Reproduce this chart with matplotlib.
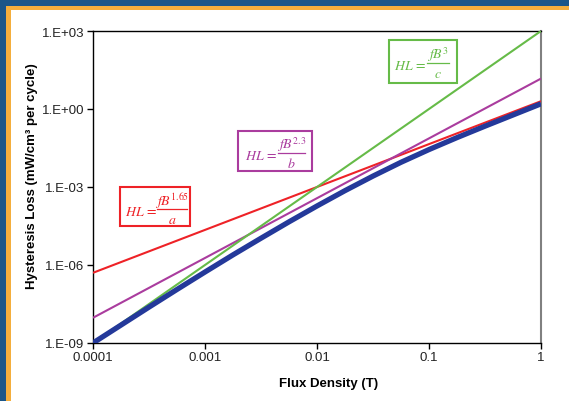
import numpy as np
import matplotlib
matplotlib.use("Agg")
from matplotlib import pyplot as plt
from matplotlib.patches import Rectangle

plt.rcParams["font.family"] = ["Liberation Sans", "DejaVu Sans"]
plt.rcParams["mathtext.fontset"] = "stix"

# flux density (T)
flux = [1e-4, 1e-3, 1e-2, 1e-1, 1.0]
flux_ticks = ["0.0001", "0.001", "0.01", "0.1", "1"]
loss_ticks = [1e-9, 1e-6, 1e-3, 1e0, 1e3]
loss_tick_labels = ["1.E-09", "1.E-06", "1.E-03", "1.E+00", "1.E+03"]

meas_logb = [-4.0, -3.75, -3.5, -3.25, -3.0, -2.75, -2.5, -2.25, -2.0,
             -1.75, -1.5, -1.25, -1.0, -0.75, -0.5, -0.25, 0.0]
meas_loghl = [-9.0, -8.31, -7.62, -6.94, -6.27, -5.61, -4.97, -4.34, -3.73,
              -3.14, -2.58, -2.05, -1.56, -1.10, -0.66, -0.23, 0.2]

# power law fits: log10 HL = log10 k + n * log10 B
fit_exp = [1.65, 2.3, 3.0]
fit_logk = [0.30, 1.17, 3.0]
fit_colors = ["#EE2227", "#AA3C9E", "#66BB48"]
fit_num = [r"$fB^{1.65}$", r"$fB^{2.3}$", r"$fB^{3}$"]
fit_den = [r"$a$", r"$b$", r"$c$"]

W, H = 569.0, 402.0
AX_L, AX_R, AX_T, AX_B = 93.0, 541.0, 32.0, 344.0


def px(x, y):
    # reference pixel position -> axes fraction
    return (x - AX_L) / (AX_R - AX_L), (AX_B - y) / (AX_B - AX_T)


# formula boxes in reference pixels: box (x0, y0, x1, y1), "HL =" x centre,
# fraction bar (x0, x1, y), numerator y, denominator y
boxes = [
    ((120, 188, 190, 227), 141, (157, 187, 210), 201, 220),
    ((238, 132, 312, 172), 261, (278, 305, 154), 145, 164),
    ((389, 41, 457, 84), 410, (427, 449, 64), 55, 74),
]

fig = plt.figure(figsize=(5.69, 4.02), dpi=100)
fig.patch.set_facecolor("#1B5689")
fig.patches.append(Rectangle((6 / W, 0), 1, (H - 7) / H, transform=fig.transFigure,
                             facecolor="#F4AE3D", edgecolor="none", zorder=-10))
fig.patches.append(Rectangle((11 / W, 0), 1, (H - 11) / H, transform=fig.transFigure,
                             facecolor="white", edgecolor="none", zorder=-9))

ax = fig.add_axes([AX_L / W, (H - AX_B) / H, (AX_R - AX_L) / W, (AX_B - AX_T) / H])
ax.set_zorder(5)
ax.set_xscale("log")
ax.set_yscale("log")

fx = np.array([flux[0], flux[-1]])
for n, logk, color in zip(fit_exp, fit_logk, fit_colors):
    ax.plot(fx, 10 ** (logk + n * np.log10(fx)), color=color, lw=1.5,
            solid_capstyle="butt", zorder=3)
ax.plot(10 ** np.array(meas_logb), 10 ** np.array(meas_loghl), color="#24399A",
        lw=3.8, solid_capstyle="butt", solid_joinstyle="round", zorder=4)

for (bx, hlx, bar, ny, dy), color, num, den in zip(boxes, fit_colors, fit_num, fit_den):
    x0, y1 = px(bx[0], bx[1])
    x1, y0 = px(bx[2], bx[3])
    ax.add_patch(Rectangle((x0, y0), x1 - x0, y1 - y0, transform=ax.transAxes,
                           fill=False, edgecolor=color, lw=1.5, zorder=5))
    ax.text(*px(hlx, bar[2] + 2), r"$HL\,=$", transform=ax.transAxes, color=color,
            ha="center", va="center", fontsize=10, zorder=6)
    bx0, by = px(bar[0], bar[2])
    bx1, _ = px(bar[1], bar[2])
    ax.plot([bx0, bx1], [by, by], transform=ax.transAxes, color=color, lw=0.9,
            zorder=6)
    xc = (bx0 + bx1) / 2
    ax.text(xc, px(0, ny)[1], num, transform=ax.transAxes, color=color,
            ha="center", va="center", fontsize=10, zorder=6)
    ax.text(xc, px(0, dy)[1], den, transform=ax.transAxes, color=color,
            ha="center", va="center", fontsize=10, zorder=6)

ax.set_xlim(1e-4, 1)
ax.set_ylim(1e-9, 1e3)
ax.set_xticks(flux)
ax.set_xticklabels(flux_ticks)
ax.set_yticks(loss_ticks)
ax.set_yticklabels(loss_tick_labels)
ax.minorticks_off()
ax.tick_params(direction="out", length=4, width=1, labelsize=9.5, pad=2,
               colors="black", labelcolor="#222222")

for side in ["left", "bottom", "top"]:
    ax.spines[side].set_color("black")
    ax.spines[side].set_linewidth(1)
ax.spines["right"].set_color("#808080")
ax.spines["right"].set_linewidth(1.5)

ax.set_xlabel("Flux Density (T)", fontsize=9.5, fontweight="bold")
ax.set_ylabel("Hysteresis Loss (mW/cm\u00b3 per cycle)", fontsize=9.5, fontweight="bold")
ax.xaxis.set_label_coords(0.525, -0.108)
ax.yaxis.set_label_coords(-0.123, 0.538)

fig.savefig("out.png", dpi=100, facecolor=fig.get_facecolor())
